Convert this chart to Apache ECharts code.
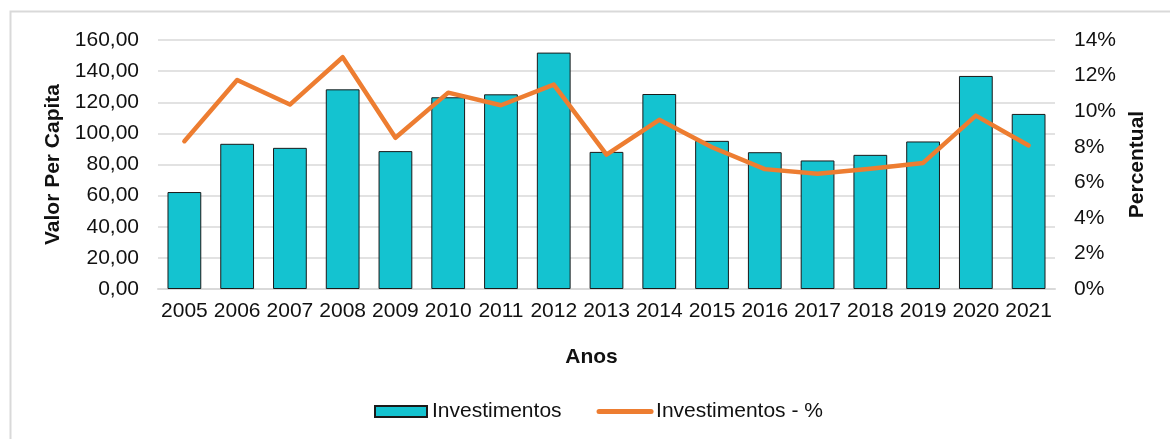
<!DOCTYPE html>
<html>
<head>
    <meta charset="utf-8" />
    <title>Investimentos</title>
    <script src="https://cdn.jsdelivr.net/npm/echarts@6/dist/echarts.min.js"></script>
    <style>
        html, body { margin: 0; padding: 0; background: #fff; }
        #main { width: 1170px; height: 439px; }
    </style>
</head>
<body>
    <div id="main"></div>
    <script type="text/javascript">
        // dados
        var anos = ['2005', '2006', '2007', '2008', '2009', '2010', '2011', '2012', '2013',
            '2014', '2015', '2016', '2017', '2018', '2019', '2020', '2021'];
        var investimentos = [62.3, 93.3, 90.7, 128.3, 88.6, 123.2, 125.1, 151.9, 88.1,
            125.3, 95.2, 87.9, 82.6, 86.2, 94.8, 136.9, 112.5];
        var investimentosPct = [8.31, 11.75, 10.37, 13.03, 8.50, 11.04, 10.33, 11.49, 7.56,
            9.51, 7.97, 6.74, 6.48, 6.76, 7.09, 9.75, 8.07];

        var fonte = "'Liberation Sans', Arial, sans-serif";
        var corTexto = '#111';
        var corGrade = '#d9d9d9';
        var laranja = '#ED7D31';

        var myChart = echarts.init(document.getElementById('main'));
        myChart.setOption({
            animation: false,
            textStyle: { fontFamily: fonte },
            graphic: [{
                type: 'rect',
                left: 8, top: 9,
                shape: { width: 1200, height: 460 },
                style: { fill: 'none', stroke: corGrade, lineWidth: 2 },
                silent: true
            }],
            grid: { left: 158, right: 115, top: 40, bottom: 150 },
            legend: {
                left: 374,
                top: 401,
                padding: 0,
                itemWidth: 52,
                itemHeight: 11,
                itemGap: 35,
                textStyle: { fontSize: 21, color: corTexto, fontFamily: fonte },
                data: [
                    { name: 'Investimentos', icon: 'rect' },
                    {
                        name: 'Investimentos - %',
                        itemStyle: { opacity: 0 },
                        lineStyle: { color: laranja, width: 5, cap: 'round' }
                    }
                ]
            },
            xAxis: {
                type: 'category',
                data: anos,
                name: 'Anos',
                nameLocation: 'middle',
                nameGap: 58,
                nameTextStyle: { fontSize: 21, fontWeight: 'bold', color: corTexto, padding: [0, 30, 0, 0] },
                axisLine: { lineStyle: { color: corGrade, width: 2 } },
                axisTick: { show: false },
                axisLabel: { fontSize: 21, color: corTexto, margin: 12, interval: 0 }
            },
            yAxis: [{
                type: 'value',
                min: 0, max: 160, interval: 20,
                name: 'Valor Per Capita',
                nameLocation: 'middle',
                nameGap: 93,
                nameTextStyle: { fontSize: 21, fontWeight: 'bold', color: corTexto },
                axisLabel: {
                    fontSize: 21, color: corTexto, margin: 19,
                    formatter: function (v) { return v.toFixed(2).replace('.', ','); }
                },
                splitLine: { lineStyle: { color: corGrade, width: 1.5 } }
            }, {
                type: 'value',
                min: 0, max: 14, interval: 2,
                name: 'Percentual',
                nameLocation: 'middle',
                nameGap: 71,
                nameTextStyle: { fontSize: 21, fontWeight: 'bold', color: corTexto },
                axisLabel: { fontSize: 21, color: corTexto, margin: 19, formatter: '{value}%' },
                splitLine: { show: false }
            }],
            series: [{
                name: 'Investimentos',
                type: 'bar',
                yAxisIndex: 0,
                barCategoryGap: '36%',
                itemStyle: { color: '#14C3D0', borderColor: '#1a1a1a', borderWidth: 1 },
                data: investimentos
            }, {
                name: 'Investimentos - %',
                type: 'line',
                yAxisIndex: 1,
                symbol: 'none',
                lineStyle: { color: laranja, width: 4.5, cap: 'round', join: 'round' },
                itemStyle: { color: laranja },
                data: investimentosPct
            }]
        });
    </script>
</body>
</html>
